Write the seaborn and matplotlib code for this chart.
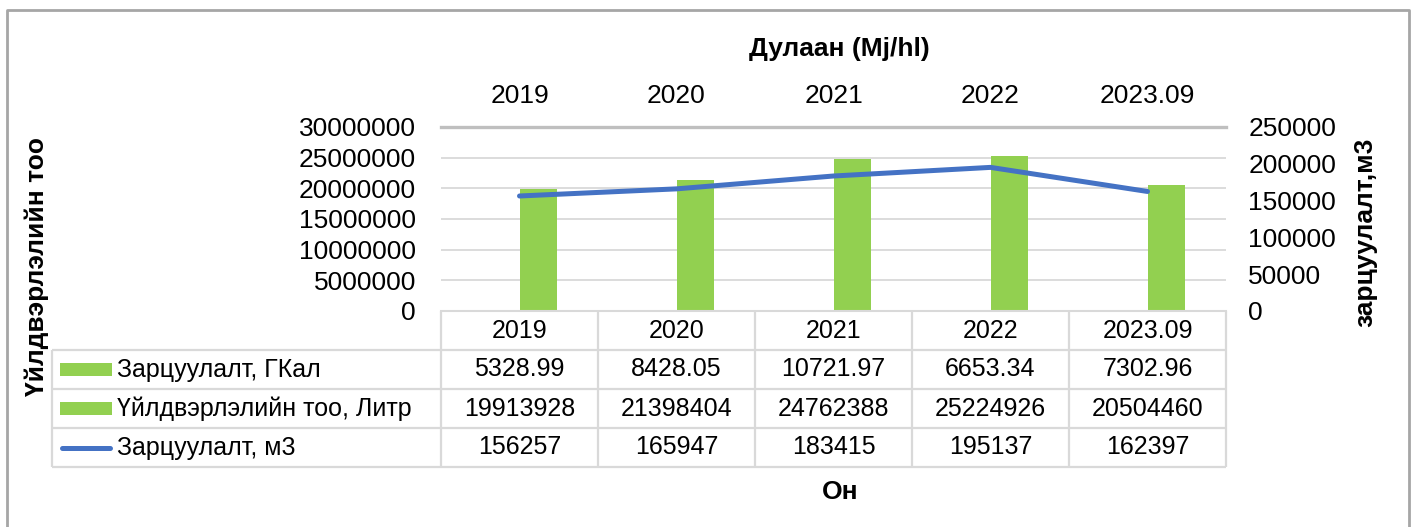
import numpy as np
import pandas as pd
import matplotlib as mpl
import matplotlib.pyplot as plt
import seaborn as sns
from matplotlib.lines import Line2D
from matplotlib.patches import Rectangle

years = ["2019", "2020", "2021", "2022", "2023.09"]
gcal = [5328.99, 8428.05, 10721.97, 6653.34, 7302.96]
litr = [19913928, 21398404, 24762388, 25224926, 20504460]
m3 = [156257, 165947, 183415, 195137, 162397]

series_names = ["Зарцуулалт, ГКал", "Үйлдвэрлэлийн тоо, Литр", "Зарцуулалт, м3"]

GREEN = "#92D050"
BLUE = "#4472C4"
GRID = "#d9d9d9"

sns.set_theme(style="white")
plt.rcParams["font.family"] = ["Liberation Sans", "DejaVu Sans"]
plt.rcParams.update({"text.color": "black", "xtick.color": "black",
                     "ytick.color": "black", "axes.labelcolor": "black"})

W, H = 1412, 527


def fy(py):
    return 1 - py / H


fig = plt.figure(figsize=(W / 100, H / 100), dpi=100)

# main plot area
ax = fig.add_axes([441 / W, 1 - 311 / H, 785 / W, 184 / H])

bars = pd.DataFrame({
    "year": years * 2,
    "series": [series_names[0]] * 5 + [series_names[1]] * 5,
    "value": gcal + litr,
})
sns.barplot(data=bars, x="year", y="value", hue="series", hue_order=series_names[:2],
            palette=[GREEN, GREEN], saturation=1, width=0.472, linewidth=0,
            legend=False, ax=ax)
ax.set_xlim(-0.5, 4.5)
ax.set_ylim(0, 30000000)
ax.set_yticks(np.arange(0, 30000001, 5000000))
ax.yaxis.set_major_formatter(mpl.ticker.StrMethodFormatter("{x:.0f}"))
ax.set_xlabel("")
ax.set_ylabel("")
ax.yaxis.grid(True, color=GRID, lw=1.3)
ax.set_axisbelow(True)
ax.xaxis.tick_top()
ax.tick_params(axis="x", top=True, labeltop=True, bottom=False, labelbottom=False,
               length=0, pad=14, labelsize=19)
ax.tick_params(axis="y", length=0, pad=18, labelsize=19)
for s in ["left", "right"]:
    ax.spines[s].set_visible(False)
ax.spines["top"].set_color("#bfbfbf")
ax.spines["top"].set_linewidth(2.4)
ax.spines["bottom"].set_color(GRID)
ax.spines["bottom"].set_linewidth(1.5)

ax2 = ax.twinx()
sns.lineplot(x=np.arange(len(years)), y=m3, color=BLUE, lw=3.6, ax=ax2,
             solid_capstyle="round", solid_joinstyle="round")
ax2.set_ylim(0, 250000)
ax2.set_yticks(np.arange(0, 250001, 50000))
ax2.yaxis.set_major_formatter(mpl.ticker.StrMethodFormatter("{x:.0f}"))
ax2.tick_params(axis="y", length=0, pad=16, labelsize=19)
ax2.set_ylabel("")
for s in ax2.spines.values():
    s.set_visible(False)

# data table under the plot
leg_w = (441 - 52) / 157
tax = fig.add_axes([52 / W, 1 - 467 / H, (1226 - 52) / W, 156 / H])
x0 = -0.5 - leg_w
tax.set_xlim(x0, 4.5)
tax.set_ylim(4, 0)
tax.axis("off")

lk = dict(color=GRID, lw=1.6, clip_on=False, solid_capstyle="butt")
for r in [1, 2, 3, 4]:
    tax.plot([x0, 4.5], [r, r], **lk)
for i in range(6):
    tax.plot([i - 0.5, i - 0.5], [0, 4], **lk)
tax.plot([x0, x0], [1, 4], **lk)

fs = 18
for i, y in enumerate(years):
    tax.text(i, 0.5, y, ha="center", va="center", fontsize=fs)
rows = [[f"{v:.2f}" for v in gcal], [str(v) for v in litr], [str(v) for v in m3]]
for r, vals in enumerate(rows, start=1):
    for i, v in enumerate(vals):
        tax.text(i, r + 0.5, v, ha="center", va="center", fontsize=fs)
    tax.text(x0 + 65 / 157, r + 0.5, series_names[r - 1], ha="left", va="center", fontsize=fs)

for r in [1, 2]:
    tax.add_patch(Rectangle((x0 + 8 / 157, r + 0.33), 52 / 157, 0.34,
                            color=GREEN, lw=0, clip_on=False))
tax.plot([x0 + 10 / 157, x0 + 58 / 157], [3.5, 3.5], color=BLUE, lw=3.6,
         solid_capstyle="round", clip_on=False)

# titles
fig.text(839 / W, fy(49), "Дулаан (Mj/hl)", ha="center", va="center",
         fontsize=19, fontweight="bold")
fig.text(37 / W, fy(267), "Үйлдвэрлэлийн тоо", ha="center", va="center",
         rotation=90, fontsize=19, fontweight="bold")
fig.text(1365 / W, fy(232), "зарцуулалт,м3", ha="center", va="center",
         rotation=90, fontsize=19, fontweight="bold")
fig.text(840 / W, fy(492), "Он", ha="center", va="center",
         fontsize=19, fontweight="bold")

# chart border
fig.add_artist(Line2D([7 / W, 7 / W, 1409 / W, 1409 / W], [0, fy(10), fy(10), 0],
                      transform=fig.transFigure, color="#a6a6a6", lw=2))

fig.savefig("out.png", dpi=100)
